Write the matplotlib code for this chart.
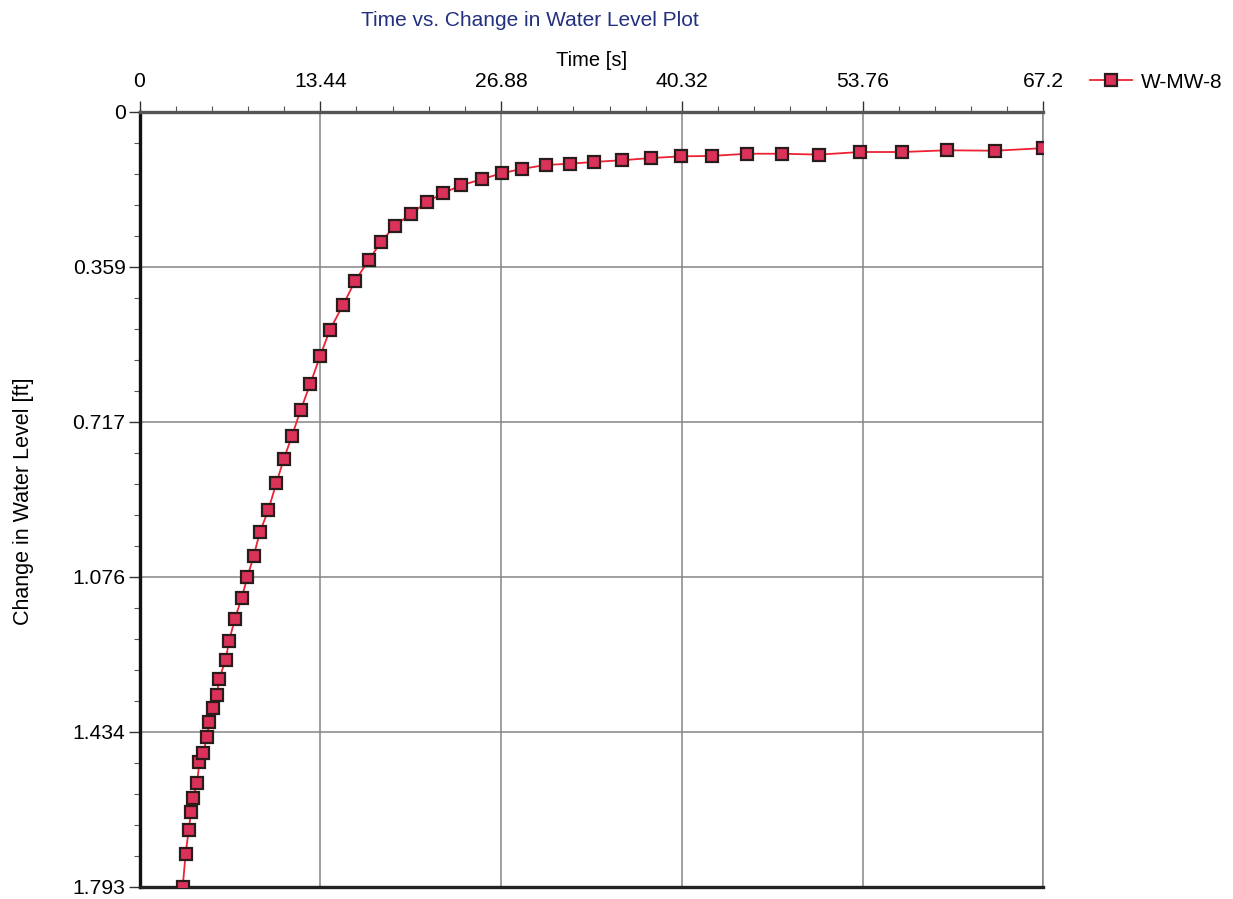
import matplotlib
matplotlib.use("Agg")
import matplotlib.pyplot as plt
from matplotlib.ticker import FixedLocator, AutoMinorLocator

plt.rcParams['font.family'] = ['Liberation Sans', 'DejaVu Sans']

# Slug test record for well W-MW-8
series_name = "W-MW-8"
time_s = [3.21, 3.43, 3.66, 3.83, 3.96, 4.28, 4.45, 4.72, 5.02, 5.17,
          5.46, 5.76, 5.91, 6.41, 6.65, 7.10, 7.60, 8.01, 8.49, 8.96,
          9.58, 10.17, 10.72, 11.34, 11.99, 12.70, 13.44, 14.16, 15.11, 16.02,
          17.04, 17.98, 19.00, 20.19, 21.38, 22.57, 23.93, 25.44, 26.93, 28.44,
          30.20, 32.03, 33.79, 35.87, 38.03, 40.26, 42.57, 45.17, 47.75, 50.54,
          53.57, 56.67, 60.04, 63.63, 67.20]
change_ft = [1.793, 1.716, 1.661, 1.620, 1.588, 1.553, 1.505, 1.484, 1.447, 1.412,
             1.378, 1.348, 1.313, 1.267, 1.225, 1.172, 1.124, 1.077, 1.027, 0.971,
             0.921, 0.859, 0.804, 0.749, 0.689, 0.629, 0.564, 0.504, 0.448, 0.392,
             0.343, 0.300, 0.263, 0.236, 0.208, 0.188, 0.170, 0.156, 0.142, 0.132,
             0.123, 0.120, 0.116, 0.112, 0.107, 0.103, 0.102, 0.097, 0.097, 0.099,
             0.093, 0.093, 0.089, 0.090, 0.084]

x_ticks = [0, 13.44, 26.88, 40.32, 53.76, 67.2]
x_tick_labels = ["0", "13.44", "26.88", "40.32", "53.76", "67.2"]
y_ticks = [0, 0.3586, 0.7172, 1.0758, 1.4344, 1.793]
y_tick_labels = ["0", "0.359", "0.717", "1.076", "1.434", "1.793"]

W, H = 1233, 899
fig = plt.figure(figsize=(W / 100, H / 100), dpi=100)
left, right, top, bottom = 139.5, 1043.4, 111.8, 887.0
ax = fig.add_axes([left / W, 1 - bottom / H, (right - left) / W, (bottom - top) / H])

line, = ax.plot(time_s, change_ft, color='#ee2233', lw=1.3, marker='s',
                markersize=8.8, markerfacecolor='#dc3158', markeredgecolor='#2b1c1c',
                markeredgewidth=1.6, zorder=3, label=series_name)

ax.set_xlim(x_ticks[0], x_ticks[-1])
ax.set_ylim(y_ticks[-1], y_ticks[0])

ax.xaxis.set_major_locator(FixedLocator(x_ticks))
ax.set_xticklabels(x_tick_labels)
ax.yaxis.set_major_locator(FixedLocator(y_ticks))
ax.set_yticklabels(y_tick_labels)
ax.xaxis.set_minor_locator(AutoMinorLocator(5))
ax.yaxis.set_minor_locator(AutoMinorLocator(5))

ax.xaxis.tick_top()
ax.xaxis.set_label_position('top')
ax.tick_params(axis='both', which='major', direction='out', length=8, width=1.0,
               color='#333333', labelsize=15.2)
ax.tick_params(axis='x', which='major', pad=7)
ax.tick_params(axis='y', which='major', pad=2)
ax.tick_params(axis='both', which='minor', direction='out', length=4, width=0.8,
               color='#555555')
ax.tick_params(axis='x', which='both', top=True, bottom=False)
ax.tick_params(axis='y', which='both', left=True, right=False)

ax.grid(True, which='major', color='#858585', lw=1.1)
ax.set_axisbelow(True)

ax.spines['left'].set_color('#111111')
ax.spines['left'].set_linewidth(2.4)
ax.spines['bottom'].set_color('#222222')
ax.spines['bottom'].set_linewidth(2.4)
ax.spines['top'].set_color('#555555')
ax.spines['top'].set_linewidth(2.4)
ax.spines['right'].set_color('#858585')
ax.spines['right'].set_linewidth(1.1)

ax.set_xlabel("Time [s]", fontsize=14.5, labelpad=4)
fig.text(24 / W, 1 - 501.5 / H, "Change in Water Level [ft]", rotation=90,
         ha='center', va='center', fontsize=15.5)

fig.text(530 / W, 1 - 21 / H, "Time vs. Change in Water Level Plot",
         ha='center', va='center', fontsize=15, color='#23307f')

leg = fig.legend(handles=[line], loc='center left',
                 bbox_to_anchor=(1080 / W, 1 - 82 / H), frameon=False,
                 fontsize=15, handlelength=2.0, handletextpad=0.4, borderpad=0)
leg.get_lines()[0].set_markersize(8.8)

fig.savefig("out.png", dpi=100)
